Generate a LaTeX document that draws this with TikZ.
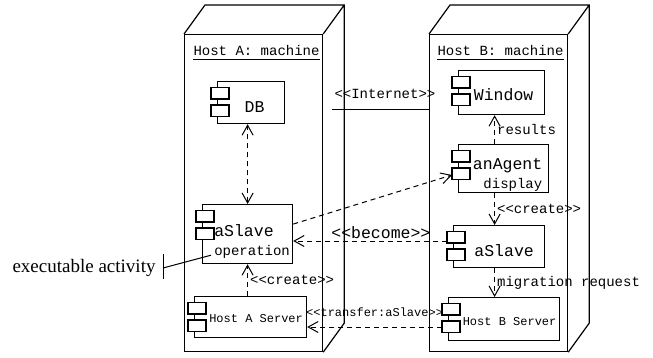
\documentclass[tikz,border=0pt]{standalone}
\usepackage{fontspec}
\setmonofont{Liberation Mono}
\newfontfamily\notefont{Liberation Serif}
\usetikzlibrary{arrows.meta}
\usetikzlibrary{calc}

\begin{document}
\begin{tikzpicture}[
            x = 1pt, y = -1pt, % pixel grid, y grows downwards
            > = {Straight Barb[length=10pt, width=11pt]}, % open arrow head
            line width = 1pt
        ]

        \tikzstyle{machine}=[draw, line width=1.2pt, anchor=north west, inner sep=0pt]
        \tikzstyle{component}=[draw, line width=1.2pt, anchor=north west, inner sep=1pt,
            font=\fontsize{16.5}{19}\selectfont\ttfamily]
        \tikzstyle{small}=[font=\fontsize{12}{14}\selectfont\ttfamily]
        \tikzstyle{lbl}=[font=\fontsize{14}{16}\selectfont\ttfamily, inner sep=2pt]
        \tikzstyle{biglbl}=[font=\fontsize{16.5}{19}\selectfont\ttfamily, inner sep=2pt]
        \tikzstyle{dep}=[dash pattern=on 5pt off 4pt]

        \useasboundingbox (0,0) rectangle (653,358);

        % machines
        \node[machine, minimum width=138, minimum height=317] (hostA) at (184,34) {};
        \draw[line width=1.2pt] (hostA.north west) -- ++(21,-29) -| ($(hostA.south east)+(21,-29)$) -- (hostA.south east)
                                (hostA.north east) -- ++(21,-29);
        \node[lbl, anchor=base west, inner sep=0pt] (titleA) at ($(hostA.north west)+(9,22)$) {Host A: machine};
        \draw ([yshift=-4pt]titleA.base west) -- ([yshift=-4pt]titleA.base east);

        \node[machine, minimum width=138, minimum height=317] (hostB) at (429,34) {};
        \draw[line width=1.2pt] (hostB.north west) -- ++(21,-29) -| ($(hostB.south east)+(21,-29)$) -- (hostB.south east)
                                (hostB.north east) -- ++(21,-29);
        \node[lbl, anchor=base west, inner sep=0pt] (titleB) at ($(hostB.north west)+(8,22)$) {Host B: machine};
        \draw ([yshift=-4pt]titleB.base west) -- ([yshift=-4pt]titleB.base east);

        % components on host A
        \node[component, minimum width=67, minimum height=42, text height=19pt] (db) at (217,81) {\hspace*{7pt}DB};
        \node[component, minimum width=90, minimum height=59, align=left] (slaveA) at (202,204)
            {\rule{0pt}{27pt}\hspace*{9pt}aSlave\\\hspace*{9pt}{\fontsize{14}{16}\selectfont operation}};
        \node[component, small, minimum width=112, minimum height=41, text height=11pt] (serverA) at (194,296) {\hspace*{11pt}Host A Server};

        % components on host B
        \node[component, minimum width=86, minimum height=44, text height=16pt] (win) at (458,70) {\hspace*{4pt}Window};
        \node[component, minimum width=90, minimum height=48, align=right] (agent) at (458,144)
            {\rule{0pt}{23pt}\hspace*{8pt}anAgent\\{\fontsize{14}{16}\selectfont display}};
        \node[component, minimum width=91, minimum height=42, text height=20pt] (slaveB) at (453,225) {\hspace*{10pt}aSlave};
        \node[component, small, minimum width=111, minimum height=43, text height=13pt] (serverB) at (448,297) {\hspace*{11pt}Host B Server};

        % component tabs
        \foreach \n in {db, slaveA, serverA, win, agent, slaveB, serverB}
            \draw[line width=1.2pt, fill=white] ($(\n.north west)+(-6,6.5)$) rectangle ++(18,11.5)
                                                ($(\n.north west)+(-6,24)$) rectangle ++(18,11.5);

        % link between the hosts
        \coordinate (netA) at (332,110);
        \draw (netA) -- node[lbl, pos=0, anchor=south west, yshift=9pt] (netLbl) {<<Internet>>} (netA -| hostB.west);

        % dependencies on host A
        \draw[dep, <->] (slaveA.north) -- (slaveA.north |- db.south);
        \draw[dep, ->] (serverA.north -| slaveA.south) -- node[lbl, right] (createA) {<<create>>} (slaveA.south);

        % dependencies on host B
        \coordinate (colB) at ($(agent.north)+(-9,0)$);
        \draw[dep, ->] (colB) -- node[lbl, right] (resultsLbl) {results} (colB |- win.south);
        \draw[dep, ->] (colB |- agent.south) -- node[lbl, right] (createB) {<<create>>} (colB |- slaveB.north);
        \draw[dep, ->] (colB |- slaveB.south) -- node[lbl, right] (migrLbl) {migration request} (colB |- serverB.north);

        % dependencies across the hosts
        \draw[dep, ->] ($(slaveA.east)+(0,-10)$) -- ($(agent.north west)+(-6,31)$);
        \coordinate (becomeStart) at ($(slaveB.north west)+(-6,16)$);
        \draw[dep, ->] (becomeStart) -- node[biglbl, above, pos=.43] (becomeLbl) {<<become>>} (becomeStart -| slaveA.east);
        \coordinate (transferStart) at ($(serverB.north west)+(-6,30)$);
        \draw[dep, ->] (transferStart) -- node[small, above=10pt, inner sep=0pt] (transferLbl) {<<transfer:aSlave>>} (transferStart -| serverA.east);

        % note
        \node[anchor=east, inner sep=0pt, font=\notefont\fontsize{19}{22}\selectfont] (activity) at (156,268) {executable activity};
        \coordinate (bar) at (163,268);
        \coordinate (opA) at ($(slaveA.south west)+(9,-9)$);
        \draw (bar) ++(0,-14) -- ++(0,25);
        \draw (bar) -- (opA);

  \end{tikzpicture}
\end{document}
